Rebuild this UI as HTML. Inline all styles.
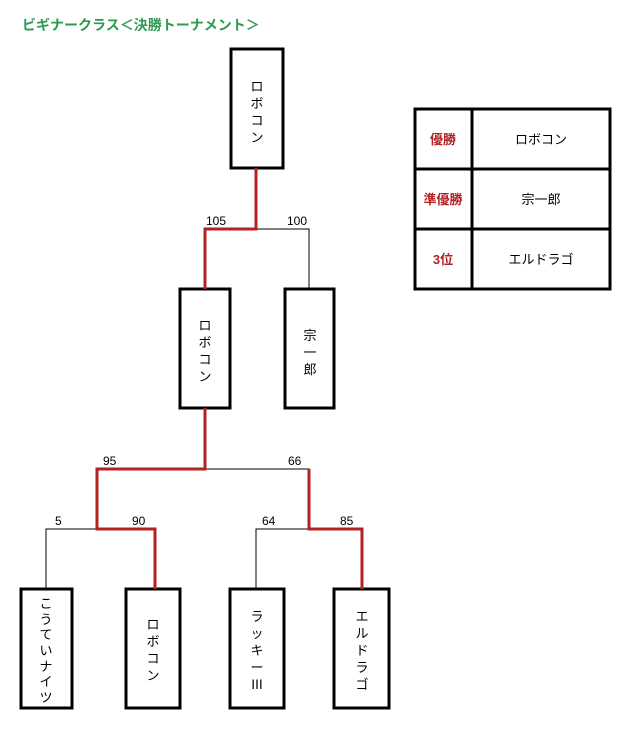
<!DOCTYPE html>
<html><head><meta charset="utf-8"><style>
body{margin:0;background:#fff;}
svg text{font-family:"Liberation Sans","Noto Sans CJK JP",sans-serif;}
</style></head><body>
<svg width="635" height="725" xmlns="http://www.w3.org/2000/svg">
<text x="22" y="30" font-size="14" font-weight="bold" fill="#2e9a52">ビギナークラス＜決勝トーナメント＞</text>
<g fill="none" stroke="#000" stroke-width="3">
<rect x="231" y="49" width="52" height="119"/>
<rect x="180" y="289" width="50" height="119"/>
<rect x="285" y="289" width="49" height="119"/>
<rect x="21" y="589" width="51" height="119"/>
<rect x="126" y="589" width="54" height="119"/>
<rect x="230" y="589" width="54" height="119"/>
<rect x="334" y="589" width="55" height="119"/>
<rect x="415" y="109" width="195" height="180"/>
<line x1="472" y1="109" x2="472" y2="289"/>
<line x1="415" y1="169" x2="610" y2="169"/>
<line x1="415" y1="229" x2="610" y2="229"/>
</g>
<g fill="none" stroke="#000" stroke-width="1">
<polyline points="256,229 309,229 309,289"/>
<polyline points="205,469 309,469 309,529"/>
<polyline points="97,529 46,529 46,589"/>
<polyline points="309,529 256,529 256,589"/>
</g>
<g fill="none" stroke="#b22222" stroke-width="3">
<polyline points="256,168 256,229 205,229 205,289"/>
<polyline points="205,408 205,469 97,469 97,529 155,529 155,589"/>
<polyline points="309,469 309,529 362,529 362,589"/>
</g>
<g font-size="12" fill="#000">
<text x="206" y="225">105</text><text x="287" y="225">100</text>
<text x="103" y="465">95</text><text x="288" y="465">66</text>
<text x="55" y="525">5</text><text x="132" y="525">90</text>
<text x="262" y="525">64</text><text x="340" y="525">85</text>
</g>
<g font-size="13" fill="#000" text-anchor="middle">
<text x="257" y="91">ロ</text><text x="257" y="108">ボ</text><text x="257" y="125">コ</text><text x="257" y="142">ン</text>
<text x="205" y="330">ロ</text><text x="205" y="347">ボ</text><text x="205" y="364">コ</text><text x="205" y="381">ン</text>
<text x="310" y="340">宗</text><text x="310" y="357">一</text><text x="310" y="374">郎</text>
<text x="46" y="608">こ</text><text x="46" y="624">う</text><text x="46" y="639">て</text><text x="46" y="655">い</text><text x="46" y="671">ナ</text><text x="46" y="686">イ</text><text x="46" y="702">ツ</text>
<text x="153" y="629">ロ</text><text x="153" y="646">ボ</text><text x="153" y="663">コ</text><text x="153" y="680">ン</text>
<text x="257" y="621">ラ</text><text x="257" y="638">ッ</text><text x="257" y="655">キ</text><text x="257" y="672">ー</text><text x="257" y="689">Ⅲ</text>
<text x="362" y="621">エ</text><text x="362" y="638">ル</text><text x="362" y="655">ド</text><text x="362" y="672">ラ</text><text x="362" y="689">ゴ</text>
</g>
<g font-size="13" text-anchor="middle">
<text x="443" y="144" fill="#b22222" font-weight="bold">優勝</text>
<text x="443" y="204" fill="#b22222" font-weight="bold">準優勝</text>
<text x="443" y="264" fill="#b22222" font-weight="bold">3位</text>
<text x="541" y="144">ロボコン</text>
<text x="541" y="204">宗一郎</text>
<text x="541" y="264">エルドラゴ</text>
</g>
</svg>
</body></html>
